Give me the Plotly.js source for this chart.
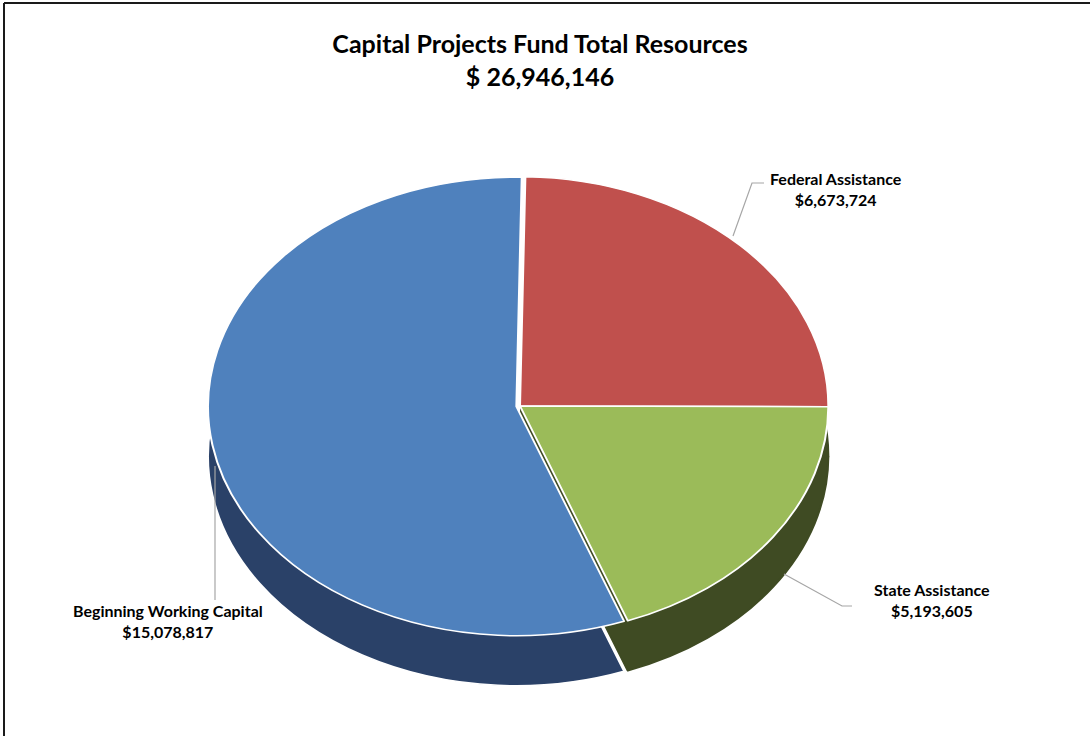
<!DOCTYPE html>
<html>
<head>
<meta charset="utf-8">
<script src="https://cdn.plot.ly/plotly-3.0.1.min.js"></script>
<style>
  html, body { margin: 0; padding: 0; background: #ffffff; }
  #wrap { position: relative; width: 1090px; height: 736px; overflow: hidden; }
  #pie { position: absolute; left: 0; top: 0; width: 1090px; height: 736px;
         transform: scaleX(1.345); transform-origin: 520px 0; }
  #overlay { position: absolute; left: 0; top: 0; width: 1090px; height: 736px; pointer-events: none; }
</style>
</head>
<body>
<div id="wrap">
  <div id="pie"></div>
  <div id="overlay"></div>
</div>
<script>
// ---- data ----
const categories = ["Federal Assistance", "State Assistance", "Beginning Working Capital"];
const amounts = [6673724, 5193605, 15078817];
const chartTitle = "Capital Projects Fund Total Resources";
const totalLabel = "$ 26,946,146";

// ---- styles ----
const topColors = ["#C0504D", "#9BBB59", "#4F81BD"];
const sideColors = ["#3F4B23", "#3F4B23", "#2A4168"];
const sideLineColors = ["#3F4B23", "#3F4B23", "#ffffff"];
const W = 1090, H = 736;
const cx = 520, cy = 406, r = 232, depth = 50;

function px2x(x) { return x / W; }
function px2y(y) { return 1 - y / H; }

const baseDomainX = [px2x(cx - r), px2x(cx + r)];

const sideTrace = {
  type: "pie",
  values: amounts,
  labels: categories,
  sort: false,
  direction: "clockwise",
  rotation: 1,
  pull: [0, 0, 0.012],
  marker: { colors: sideColors, line: { color: sideLineColors, width: 1.5 } },
  textinfo: "none",
  hoverinfo: "skip",
  domain: { x: baseDomainX, y: [px2y(cy + r + depth), px2y(cy - r + depth)] }
};

const topTrace = {
  type: "pie",
  values: amounts,
  labels: categories,
  sort: false,
  direction: "clockwise",
  rotation: 1,
  pull: [0, 0, 0.012],
  marker: { colors: topColors, line: { color: "#ffffff", width: 1.5 } },
  textinfo: "none",
  hoverinfo: "skip",
  domain: { x: baseDomainX, y: [px2y(cy + r), px2y(cy - r)] }
};

Plotly.newPlot("pie", [sideTrace, topTrace], {
  width: W, height: H,
  margin: { l: 0, r: 0, t: 0, b: 0 },
  showlegend: false,
  paper_bgcolor: "#ffffff"
}, { staticPlot: true });

// ---- labels overlay ----
const labelPos = [
  { x: 836, y: 189 },
  { x: 932, y: 600 },
  { x: 168, y: 621 }
];
const leaders = [
  [[733, 236], [752, 183], [764, 183]],
  [[784, 574], [842, 606], [852, 606]],
  [[215, 466], [215, 600]]
];

const annotations = categories.map((c, i) => ({
  xref: "paper", yref: "paper",
  x: px2x(labelPos[i].x), y: px2y(labelPos[i].y),
  xanchor: "center", yanchor: "middle",
  showarrow: false,
  align: "center",
  text: "<b>" + c + "</b><br><b>$" + amounts[i].toLocaleString("en-US") + "</b>",
  font: { family: "Lato, 'Open Sans', sans-serif", size: 16, color: "#000000" }
}));

const shapes = leaders.map(pts => ({
  type: "path", xref: "paper", yref: "paper",
  path: pts.map((p, k) => (k === 0 ? "M" : "L") + px2x(p[0]) + "," + px2y(p[1])).join(" "),
  line: { color: "#A6A6A6", width: 1.2 }
}));
// frame edges
shapes.push({ type: "line", xref: "paper", yref: "paper",
  x0: px2x(4), x1: 1, y0: px2y(3), y1: px2y(3), line: { color: "#1a1a1a", width: 2 } });
shapes.push({ type: "line", xref: "paper", yref: "paper",
  x0: px2x(4), x1: px2x(4), y0: px2y(3), y1: 0, line: { color: "#1a1a1a", width: 2 } });

Plotly.newPlot("overlay", [], {
  width: W, height: H,
  margin: { l: 0, r: 0, t: 0, b: 0 },
  paper_bgcolor: "rgba(0,0,0,0)",
  plot_bgcolor: "rgba(0,0,0,0)",
  xaxis: { visible: false }, yaxis: { visible: false },
  title: {
    text: "<b>" + chartTitle + "</b><br><b>" + totalLabel + "</b>",
    x: px2x(540), xanchor: "center",
    y: px2y(53), yanchor: "middle",
    font: { family: "Lato, 'Open Sans', sans-serif", size: 25, color: "#000000" }
  },
  annotations: annotations,
  shapes: shapes,
  showlegend: false
}, { staticPlot: true });
</script>
</body>
</html>
